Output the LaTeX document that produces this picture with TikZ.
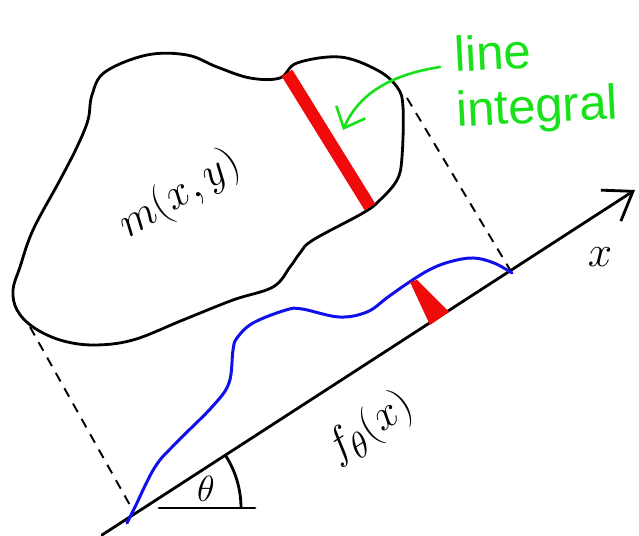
\documentclass[tikz,border=0pt]{standalone}
\usepackage{fontspec}
\setmainfont{Liberation Sans}
\usetikzlibrary{arrows.meta}
\definecolor{penred}{RGB}{240,10,10}
\definecolor{penblue}{RGB}{15,15,235}
\definecolor{pengreen}{RGB}{25,225,25}

\begin{document}
\begin{tikzpicture}[
    x=0.02cm, y=0.02cm,
    outline/.style={line width=1.6pt, line join=round, line cap=round},
    proj/.style={dashed, dash pattern=on 5.5pt off 4.5pt, line width=1.1pt},
    strip/.style={penred, line width=0.25cm},
    profile/.style={penblue, line width=1.7pt, line join=round, line cap=round},
    note/.style={pengreen, font=\fontsize{28}{30}\selectfont, inner sep=0pt, anchor=base west},
    bigmath/.style={font=\fontsize{28}{30}\selectfont, inner sep=0pt}
]
\useasboundingbox (0,0) rectangle (639,536);

% object m(x,y)
\draw[outline] plot[smooth cycle, tension=0.6] coordinates {
  (13,246) (20,269) (33,306) (60,356) (77,389) (88,416) (92,441) (105,464)
  (147,481) (187,481) (217,469) (250,458) (280,458) (297,473) (340,479)
  (377,466) (397,449) (403,429) (402,379) (397,356) (380,336) (363,323)
  (313,296) (300,283) (290,269) (273,249) (233,236) (183,216) (133,196)
  (93,191) (60,196) (33,209) (17,226)};
\node[bigmath, rotate=31] (mlabel) at (180,341) {$m(x,y)$};

% ray through the object
\coordinate (rayin) at (287,463);
\coordinate (rayout) at (370,329);
\draw[strip] (rayin) -- (rayout);

% detector axis
\coordinate (axstart) at (102,1);
\coordinate (axend) at (635,346);
\draw[outline, -{Straight Barb[length=15pt, width=21pt, line width=1.6pt]}] (axstart) -- (axend);
\node[font=\fontsize{30}{32}\selectfont, inner sep=0pt] (xlabel) at (600,279) {$x$};

% projection lines
\coordinate (blobleft) at (30,209);
\coordinate (axleft) at (131,29);
\coordinate (blobright) at (407,438);
\coordinate (axright) at (512,263);
\draw[proj] (blobleft) -- (axleft);
\draw[proj] (blobright) -- (axright);

% projection profile
\draw[profile] plot[smooth, tension=0.6] coordinates {
  (127,13) (135,29) (155,69) (176,93) (212,129) (229,153) (233,186)
  (237,198) (253,213) (286,226) (302,227) (339,219) (367,224) (388,239)
  (408,253) (429,266) (449,274) (473,278) (494,273) (512,263)};
\fill[penred] (410,254) -- (417,256) -- (449,224) -- (430,211) -- cycle;
\node[bigmath, rotate=33] (flabel) at (370,108) {$f_\theta(x)$};

% angle
\coordinate (vertex) at (144,28);
\coordinate (horiz) at (255,28);
\draw[outline] (159,28) -- (horiz);
\draw[outline] ([shift={(0:97)}]vertex) arc[start angle=0, end angle=33, radius=1.94cm];
\node[font=\fontsize{20}{22}\selectfont, inner sep=0pt] (thlabel) at (206,47) {$\theta$};

% label
\node[note, rotate=3] (lineword) at (455,464) {line};
\node[note, rotate=3] (intword) at (457,409) {integral};
\coordinate (callout) at (440,469);
\coordinate (target) at (343,406);
\draw[pengreen, line width=1.5pt, line cap=round,
      -{Straight Barb[length=10pt, width=18pt, line width=1.5pt]}]
  (callout) .. controls (395,462) and (360,445) .. (target);
\end{tikzpicture}
\end{document}
